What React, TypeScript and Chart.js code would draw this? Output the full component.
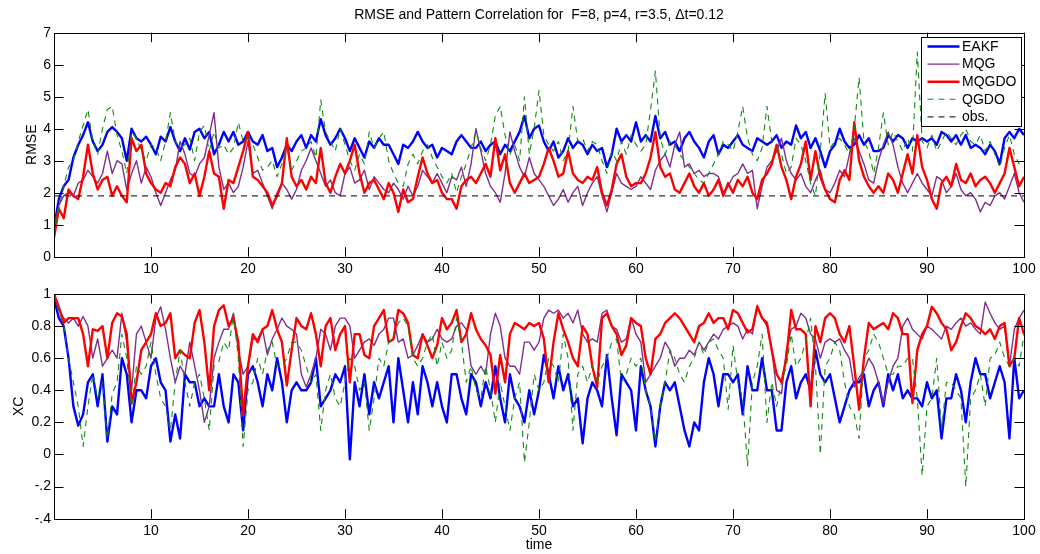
import React, { useEffect, useRef } from "react";
import { Chart, registerables } from "chart.js";

Chart.register(...registerables);

// ---------- categories / ticks ----------
const TIME_STEP = 0.5; // time spacing of the sampled series (t = 0, 0.5, ..., 100)
const X_TICKS = [10, 20, 30, 40, 50, 60, 70, 80, 90, 100];
const RMSE_TICKS = [0, 1, 2, 3, 4, 5, 6, 7];
const XC_TICKS = [-0.4, -0.2, 0, 0.2, 0.4, 0.6, 0.8, 1];
const XC_TICK_LABELS = ["-.4", "-.2", "0", "0.2", "0.4", "0.6", "0.8", "1"];
const TITLE = "RMSE and Pattern Correlation for  F=8, p=4, r=3.5, \u0394t=0.12";
const SERIES_NAMES = ["EAKF", "MQG", "MQGDO", "QGDO", "obs."];
const OBS_RMSE = 1.9;

// ---------- RMSE (top panel) ----------
const EAKF_RMSE = [
  0.9, 1.8, 2.2, 2.4, 3.1, 3.5, 3.8, 4.2, 3.6, 3.3, 3.5, 3.9, 4.05, 3.9, 3.7, 3.0, 4.0, 3.7, 3.6, 3.75,
  3.5, 3.2, 3.75, 3.6, 4.05, 3.6, 3.3, 3.7, 3.35, 3.9, 4.0, 3.7, 3.9, 3.2, 3.5, 3.9, 3.6, 3.9, 3.5, 3.6,
  3.9, 3.6, 3.5, 3.8, 3.3, 3.4, 2.8, 3.1, 3.5, 3.3, 3.6, 3.8, 3.4, 3.8, 3.6, 4.3, 3.8, 3.5, 3.7, 4.0,
  3.7, 3.3, 3.7, 3.4, 3.1, 3.6, 3.4, 3.7, 3.5, 3.5, 3.2, 2.9, 3.5, 3.4, 3.6, 3.9, 3.6, 3.4, 3.5, 3.1,
  3.4, 3.3, 3.2, 3.6, 3.8, 3.6, 3.4, 3.4, 3.6, 3.3, 3.5, 3.6, 3.2, 3.5, 3.3, 3.6, 3.9, 4.4, 3.7, 4.0,
  4.1, 3.6, 3.3, 3.6, 3.1, 3.3, 3.7, 3.4, 3.6, 3.5, 3.2, 3.5, 3.3, 3.4, 2.8, 3.2, 4.0, 3.6, 3.8, 3.6,
  4.2, 3.6, 3.8, 3.6, 4.4, 3.7, 3.9, 3.5, 3.6, 3.3, 3.7, 3.9, 3.6, 3.4, 3.1, 3.6, 3.8, 3.2, 3.5, 3.4,
  3.6, 3.8, 3.5, 3.4, 3.3, 3.7, 3.6, 3.5, 3.6, 3.8, 3.4, 3.6, 3.5, 4.1, 3.7, 3.9, 3.4, 3.7, 3.3, 2.8,
  3.3, 3.5, 4.0, 3.6, 3.4, 3.5, 3.8, 3.5, 3.7, 3.3, 3.3, 3.4, 3.8, 3.6, 3.8, 3.7, 3.4, 3.7, 3.6, 3.7,
  3.6, 3.7, 3.5, 3.9, 3.8, 3.6, 3.8, 3.5, 3.8, 3.4, 3.5, 3.4, 3.2, 3.5, 3.3, 2.9, 3.7, 3.9, 3.7, 4.0, 3.8,
];
const MQG_RMSE = [
  0.9, 1.6, 1.9, 2.0, 1.9, 2.3, 2.4, 2.7, 2.5, 2.3, 2.6, 3.3, 2.6, 3.0, 2.9, 2.1, 2.6, 3.0, 2.3, 2.8,
  2.5, 2.0, 1.6, 2.0, 2.4, 2.7, 3.6, 3.2, 2.6, 2.5, 2.9, 3.1, 3.8, 4.5, 2.8, 2.1, 2.3, 2.0, 2.2, 2.8,
  3.6, 2.6, 2.7, 2.3, 1.9, 1.5, 2.0, 2.3, 2.1, 1.8, 2.1, 2.7, 3.0, 3.4, 3.0, 2.6, 2.2, 2.4, 2.0, 1.9,
  2.6, 2.8, 2.3, 2.4, 2.7, 2.1, 2.5, 2.3, 2.1, 2.0, 2.3, 2.1, 1.8, 2.2, 1.9, 2.2, 2.7, 2.5, 2.3, 2.6,
  2.3, 2.0, 2.5, 2.4, 2.8, 2.2, 2.9, 4.0, 3.3, 2.6, 2.2, 2.0, 1.7, 2.6, 3.9, 3.3, 2.8, 2.5, 3.1, 2.6,
  2.4, 2.2, 1.9, 1.6, 1.8, 2.1, 1.7, 2.0, 2.2, 1.6, 2.0, 2.3, 2.5, 1.9, 1.4, 2.0, 2.6, 2.3, 2.2, 2.1,
  2.2, 2.5, 2.3, 2.1, 2.7, 3.0, 3.2, 2.8, 3.5, 3.9, 2.8, 2.9, 2.6, 2.7, 2.5, 2.6, 2.6, 2.5, 2.0, 2.2,
  2.5, 2.6, 2.9, 2.6, 2.7, 1.5, 2.2, 2.8, 3.0, 3.3, 3.7, 3.0, 2.6, 2.4, 2.6, 2.2, 2.0, 2.4, 2.7, 2.1,
  2.0, 2.3, 2.7, 2.5, 3.2, 3.7, 3.3, 2.9, 2.4, 2.3, 3.0, 3.5, 3.9, 3.5, 2.8, 2.3, 2.0, 2.3, 2.6, 2.3,
  2.1, 1.9, 2.5, 2.4, 2.0, 2.2, 2.6, 2.1, 1.9, 2.0, 1.8, 1.4, 1.7, 1.6, 1.9, 2.0, 1.8, 2.2, 2.6, 2.0, 1.7,
];
const MQGDO_RMSE = [
  0.6, 1.5, 1.2, 2.1, 1.9, 1.8, 2.5, 3.5, 2.6, 2.1, 2.4, 2.5, 1.9, 2.2, 1.9, 1.7, 3.7, 3.3, 3.5, 2.6,
  2.3, 2.1, 2.0, 2.3, 2.2, 2.8, 3.1, 2.9, 2.3, 2.6, 1.9, 2.5, 3.3, 2.6, 2.5, 1.5, 2.4, 2.3, 2.8, 3.3,
  3.9, 2.5, 2.4, 2.2, 2.0, 1.6, 1.9, 2.3, 3.7, 2.5, 2.2, 2.4, 2.1, 2.5, 2.3, 3.4, 2.3, 2.0, 2.5, 2.9,
  2.6, 3.0, 3.5, 2.6, 2.0, 2.3, 2.4, 2.1, 1.8, 2.3, 2.0, 1.4, 2.1, 1.7, 1.8, 2.5, 3.1, 2.6, 2.3, 2.4,
  2.0, 1.8, 1.8, 1.5, 2.2, 2.4, 2.5, 2.3, 2.6, 2.9, 2.5, 3.7, 2.7, 3.2, 2.3, 2.0, 2.3, 2.6, 2.3, 2.4,
  2.5, 2.9, 3.4, 3.0, 2.5, 2.6, 3.3, 2.6, 2.4, 2.3, 2.5, 2.4, 2.8, 2.0, 1.6, 2.1, 2.9, 3.2, 2.5, 2.2,
  2.3, 2.3, 2.6, 3.1, 3.9, 2.8, 2.5, 2.6, 2.1, 2.0, 2.3, 2.6, 2.2, 2.0, 2.3, 1.9, 2.1, 2.4, 1.9, 2.3,
  2.0, 2.4, 2.2, 2.5, 2.0, 1.8, 2.4, 2.6, 2.9, 3.5, 2.8, 2.4, 1.8, 2.5, 2.9, 3.6, 2.4, 3.3, 2.5, 2.1,
  1.8, 1.7, 2.4, 2.7, 2.4, 4.2, 3.0, 2.5, 2.2, 2.0, 2.2, 2.0, 2.6, 2.4, 2.0, 2.6, 3.2, 2.6, 3.8, 2.8,
  2.4, 1.8, 1.5, 2.3, 2.5, 2.2, 2.9, 2.4, 2.3, 2.6, 2.2, 2.4, 2.5, 2.3, 2.0, 2.3, 2.6, 3.4, 2.8, 2.2, 2.5,
];
const QGDO_RMSE = [
  0.7, 1.5, 2.2, 2.8, 3.0, 3.6, 4.1, 4.6, 3.6, 3.2, 4.0, 4.6, 4.7, 3.8, 3.3, 2.6, 3.9, 3.7, 3.3, 3.0,
  3.5, 3.4, 3.0, 3.6, 4.5, 3.6, 3.4, 3.5, 3.7, 3.0, 3.9, 4.1, 3.3, 3.9, 3.4, 3.5, 3.2, 3.4, 4.2, 3.6,
  3.7, 3.5, 3.1, 2.7, 2.8, 3.0, 2.5, 2.9, 3.4, 2.7, 3.0, 3.3, 3.4, 3.6, 3.1, 4.9, 3.9, 3.6, 3.3, 4.0,
  3.5, 3.0, 2.7, 3.2, 2.9, 3.9, 3.4, 3.7, 3.9, 3.0, 2.6, 2.3, 2.2, 2.9, 3.2, 2.9, 3.3, 3.5, 3.1, 2.8,
  2.5, 2.3, 2.6, 2.0, 2.5, 2.9, 3.4, 3.9, 3.4, 3.0, 3.5, 4.4, 4.7, 3.8, 3.2, 3.5, 3.0, 5.0, 3.2, 4.0,
  5.2, 3.8, 3.5, 3.3, 3.6, 3.0, 3.3, 4.7, 3.6, 3.7, 3.3, 3.6, 3.5, 3.0, 2.6, 3.3, 3.0, 3.6, 3.2, 3.8,
  3.5, 3.3, 3.5, 4.6, 5.8, 3.7, 3.2, 3.6, 3.5, 3.2, 3.0, 2.8, 2.6, 2.4, 2.3, 2.6, 2.9, 3.2, 3.6, 3.5,
  3.3, 3.9, 4.7, 3.7, 3.2, 3.0, 3.4, 4.7, 3.6, 3.4, 3.2, 2.6, 2.8, 3.7, 3.5, 3.0, 2.3, 1.9, 3.3, 5.1,
  3.4, 3.6, 3.7, 3.5, 3.2, 4.0, 5.6, 3.6, 3.3, 2.6, 3.4, 4.5, 3.5, 3.9, 3.6, 3.3, 3.7, 3.3, 6.4, 3.6,
  3.4, 3.8, 3.3, 3.6, 3.9, 3.7, 3.5, 3.8, 4.0, 3.6, 3.5, 3.8, 3.3, 3.6, 3.2, 2.8, 3.4, 3.8, 3.2, 2.9, 3.0,
];

// ---------- pattern correlation XC (bottom panel) ----------
const EAKF_XC = [
  0.97, 0.85, 0.8, 0.6, 0.3, 0.18, 0.25, 0.45, 0.5, 0.3, 0.5, 0.08, 0.3, 0.25, 0.6, 0.5, 0.2, 0.4, 0.4, 0.35,
  0.55, 0.6, 0.45, 0.4, 0.08, 0.25, 0.1, 0.5, 0.45, 0.45, 0.3, 0.35, 0.3, 0.3, 0.5, 0.3, 0.2, 0.5, 0.45, 0.15,
  0.5, 0.55, 0.45, 0.3, 0.5, 0.4, 0.6, 0.45, 0.2, 0.4, 0.45, 0.4, 0.4, 0.45, 0.6, 0.3, 0.35, 0.4, 0.5, 0.45,
  0.55, -0.03, 0.45, 0.3, 0.5, 0.25, 0.45, 0.35, 0.45, 0.55, 0.2, 0.6, 0.4, 0.2, 0.45, 0.25, 0.55, 0.45, 0.3, 0.45,
  0.3, 0.2, 0.5, 0.5, 0.35, 0.25, 0.5, 0.45, 0.3, 0.45, 0.35, 0.55, 0.35, 0.2, 0.5, 0.35, 0.3, 0.2, 0.4, 0.25,
  0.4, 0.62, 0.5, 0.35, 0.55, 0.4, 0.5, 0.3, 0.35, 0.07, 0.35, 0.45, 0.4, 0.3, 0.62, 0.35, 0.12, 0.5, 0.45, 0.4,
  0.15, 0.55, 0.4, 0.3, 0.05, 0.3, 0.45, 0.4, 0.45, 0.3, 0.15, 0.05, 0.2, 0.15, 0.45, 0.6, 0.5, 0.3, 0.5, 0.5,
  0.45, 0.5, 0.25, 0.55, 0.4, 0.4, 0.6, 0.4, 0.4, 0.15, 0.15, 0.45, 0.55, 0.35, 0.45, 0.5, 0.4, 0.65, 0.5, 0.45,
  0.5, 0.35, 0.2, 0.3, 0.4, 0.45, 0.45, 0.5, 0.3, 0.4, 0.45, 0.3, 0.5, 0.4, 0.5, 0.35, 0.4, 0.35, 0.35, 0.3,
  0.45, 0.35, 0.4, 0.1, 0.35, 0.35, 0.5, 0.4, 0.2, 0.45, 0.6, 0.5, 0.5, 0.35, 0.45, 0.55, 0.45, 0.1, 0.6, 0.35, 0.4,
];
const MQG_XC = [
  1.0, 0.9, 0.85, 0.82, 0.85, 0.8, 0.86, 0.8, 0.6, 0.72, 0.55, 0.6, 0.65, 0.6, 0.88, 0.7, 0.4, 0.75, 0.8, 0.7,
  0.6, 0.85, 0.92, 0.78, 0.6, 0.45, 0.55, 0.5, 0.7, 0.55, 0.4, 0.2, 0.3, 0.6, 0.7, 0.78, 0.78, 0.88, 0.65, 0.5,
  0.55, 0.72, 0.72, 0.78, 0.62, 0.72, 0.78, 0.85, 0.8, 0.78, 0.75, 0.5, 0.42, 0.5, 0.6, 0.78, 0.75, 0.65, 0.8, 0.85,
  0.85, 0.8, 0.6, 0.65, 0.7, 0.72, 0.68, 0.75, 0.78, 0.85, 0.85, 0.7, 0.72, 0.6, 0.62, 0.68, 0.75, 0.7, 0.72, 0.78,
  0.72, 0.7, 0.72, 0.8, 0.82, 0.78, 0.55, 0.5, 0.55, 0.5, 0.75, 0.88, 0.8, 0.6, 0.55, 0.55, 0.5, 0.7, 0.7, 0.65,
  0.7, 0.85, 0.9, 0.88, 0.9, 0.85, 0.88, 0.82, 0.9, 0.75, 0.7, 0.72, 0.7, 0.88, 0.9, 0.8, 0.78, 0.7, 0.72, 0.85,
  0.75, 0.7, 0.45, 0.5, 0.55, 0.6, 0.7, 0.65, 0.55, 0.6, 0.6, 0.65, 0.62, 0.7, 0.65, 0.7, 0.75, 0.72, 0.78, 0.8,
  0.82, 0.8, 0.72, 0.78, 0.75, 0.93, 0.85, 0.8, 0.65, 0.4, 0.38, 0.65, 0.78, 0.8, 0.88, 0.85, 0.75, 0.72, 0.6, 0.7,
  0.72, 0.7, 0.72, 0.65, 0.6, 0.42, 0.48, 0.52, 0.6, 0.55, 0.45, 0.32, 0.45, 0.55, 0.6, 0.8, 0.85, 0.78, 0.75, 0.72,
  0.8, 0.78, 0.75, 0.72, 0.8, 0.78, 0.82, 0.85, 0.8, 0.82, 0.78, 0.75, 0.95, 0.88, 0.82, 0.78, 0.8, 0.55, 0.78, 0.85, 0.9,
];
const MQGDO_XC = [
  1.0, 0.92, 0.82, 0.85, 0.85, 0.85, 0.75, 0.55, 0.78, 0.77, 0.8, 0.6, 0.82, 0.88, 0.86, 0.75, 0.32, 0.45, 0.65, 0.7,
  0.75, 0.88, 0.8, 0.82, 0.88, 0.6, 0.65, 0.62, 0.6, 0.82, 0.9, 0.7, 0.4, 0.8, 0.9, 0.93, 0.8, 0.85, 0.7, 0.25,
  0.55, 0.75, 0.7, 0.78, 0.8, 0.9, 0.78, 0.7, 0.43, 0.65, 0.85, 0.8, 0.78, 0.88, 0.75, 0.55, 0.8, 0.85, 0.65, 0.75,
  0.8, 0.45, 0.75, 0.75, 0.62, 0.6, 0.8, 0.85, 0.9, 0.7, 0.72, 0.9, 0.88, 0.82, 0.62, 0.6, 0.75, 0.68, 0.6, 0.68,
  0.85, 0.78, 0.82, 0.9, 0.7, 0.75, 0.88, 0.78, 0.72, 0.68, 0.62, 0.38, 0.62, 0.45, 0.75, 0.82, 0.8, 0.78, 0.82, 0.8,
  0.82, 0.72, 0.45, 0.7, 0.88, 0.78, 0.7, 0.6, 0.55, 0.8, 0.75, 0.55, 0.42, 0.85, 0.88, 0.8, 0.75, 0.62, 0.68, 0.85,
  0.82, 0.8, 0.6, 0.5, 0.72, 0.75, 0.82, 0.85, 0.88, 0.85, 0.8, 0.75, 0.7, 0.8, 0.82, 0.88, 0.82, 0.85, 0.85, 0.78,
  0.9, 0.88, 0.82, 0.76, 0.78, 0.92, 0.85, 0.82, 0.65, 0.5, 0.45, 0.6, 0.9, 0.78, 0.78, 0.75, 0.3, 0.8, 0.7, 0.85,
  0.88, 0.85, 0.75, 0.7, 0.8, 0.55, 0.28, 0.6, 0.82, 0.78, 0.8, 0.82, 0.78, 0.88, 0.85, 0.75, 0.75, 0.32, 0.65, 0.75,
  0.8, 0.92, 0.88, 0.82, 0.78, 0.65, 0.7, 0.8, 0.88, 0.85, 0.8, 0.78, 0.75, 0.78, 0.72, 0.8, 0.82, 0.55, 0.6, 0.85, 0.75,
];
const QGDO_XC = [
  1.0, 0.9, 0.8, 0.6, 0.45, 0.3, 0.05, 0.3, 0.5, 0.35, 0.45, 0.1, 0.38, 0.45, 0.75, 0.6, 0.3, 0.55, 0.5, 0.55,
  0.7, 0.5, 0.35, 0.3, 0.15, 0.45, 0.65, 0.45, 0.3, 0.45, 0.5, 0.35, 0.15, 0.55, 0.58, 0.7, 0.65, 0.88, 0.6, 0.05,
  0.4, 0.45, 0.6, 0.5, 0.65, 0.7, 0.55, 0.55, 0.6, 0.7, 0.7, 0.65, 0.55, 0.45, 0.5, 0.15, 0.4, 0.5, 0.35, 0.3,
  0.45, 0.6, 0.55, 0.4, 0.45, 0.15, 0.35, 0.6, 0.55, 0.7, 0.72, 0.82, 0.85, 0.8, 0.6, 0.55, 0.6, 0.7, 0.75, 0.55,
  0.7, 0.6, 0.65, 0.85, 0.7, 0.45, 0.55, 0.4, 0.35, 0.55, 0.4, 0.2, 0.45, 0.3, 0.15, 0.35, 0.45, -0.05, 0.2, 0.5,
  0.4, 0.45, 0.6, 0.55, 0.45, 0.75, 0.6, 0.15, 0.5, 0.55, 0.45, 0.55, 0.45, 0.55, 0.6, 0.7, 0.72, 0.45, 0.5, 0.6,
  0.55, 0.6, 0.4, 0.3, 0.08, 0.3, 0.45, 0.65, 0.6, 0.5, 0.45, 0.55, 0.6, 0.7, 0.62, 0.7, 0.72, 0.65, 0.6, 0.28,
  0.68, 0.45, 0.35, -0.07, 0.45, 0.55, 0.75, 0.2, 0.45, 0.3, 0.45, 0.55, 0.75, 0.55, 0.6, 0.7, 0.85, 0.55, 0.0, 0.55,
  0.6, 0.7, 0.65, 0.45, 0.3, 0.25, 0.1, 0.6, 0.65, 0.75, 0.7, 0.6, 0.5, 0.5, 0.55, 0.55, 0.6, 0.6, 0.35, -0.13,
  0.3, 0.35, 0.6, 0.15, 0.45, 0.45, 0.4, 0.35, -0.2, 0.35, 0.4, 0.5, 0.3, 0.6, 0.62, 0.7, 0.6, 0.55, 0.6, 0.55, 0.75,
];

// ---------- styling ----------
const FONT = "'Liberation Sans', Arial, Helvetica, sans-serif";
const STYLE: Record<string, { color: string; width: number; dash: number[] }> = {
  EAKF: { color: "#0000ff", width: 2.4, dash: [] },
  MQG: { color: "#7e2f8e", width: 1.4, dash: [] },
  MQGDO: { color: "#ff0000", width: 2.4, dash: [] },
  QGDO: { color: "#108a10", width: 1.1, dash: [6, 5] },
  "obs.": { color: "#000000", width: 1, dash: [6, 5] },
};

const toPoints = (vals: number[]) => vals.map((v, i) => ({ x: i * TIME_STEP, y: v }));

const makeDataset = (name: string, data: { x: number; y: number }[], order: number) => ({
  label: name,
  data,
  borderColor: STYLE[name].color,
  borderWidth: STYLE[name].width,
  borderDash: STYLE[name].dash,
  pointRadius: 0,
  tension: 0,
  fill: false,
  borderJoinStyle: "round" as const,
  order,
});

// inward MATLAB-style ticks on all four sides plus the box frame
const matlabAxes = {
  id: "matlabAxes",
  afterDatasetsDraw(chart: any) {
    const { ctx, chartArea: a, scales } = chart;
    const L = 9.5;
    ctx.save();
    ctx.strokeStyle = "#000";
    ctx.lineWidth = 1;
    ctx.setLineDash([]);
    ctx.beginPath();
    for (const t of scales.x.ticks) {
      const px = Math.round(scales.x.getPixelForValue(t.value)) + 0.5;
      ctx.moveTo(px, a.bottom);
      ctx.lineTo(px, a.bottom - L);
      ctx.moveTo(px, a.top);
      ctx.lineTo(px, a.top + L);
    }
    for (const t of scales.y.ticks) {
      const py = Math.round(scales.y.getPixelForValue(t.value)) + 0.5;
      ctx.moveTo(a.left, py);
      ctx.lineTo(a.left + L, py);
      ctx.moveTo(a.right, py);
      ctx.lineTo(a.right - L, py);
    }
    ctx.stroke();
    ctx.strokeRect(Math.round(a.left) + 0.5, Math.round(a.top) + 0.5, Math.round(a.right - a.left), Math.round(a.bottom - a.top));
    ctx.restore();
  },
};

// boxed legend inside the top-right corner of the axes
const boxedLegend = {
  id: "boxedLegend",
  afterDraw(chart: any) {
    const { ctx, chartArea: a } = chart;
    const w = 100;
    const h = 89;
    const x = Math.round(a.right - 3.5 - w);
    const y = Math.round(a.top + 4.6);
    ctx.save();
    ctx.fillStyle = "#ffffff";
    ctx.fillRect(x, y, w, h);
    ctx.strokeStyle = "#000";
    ctx.lineWidth = 1;
    ctx.setLineDash([]);
    ctx.strokeRect(x + 0.5, y + 0.5, w, h);
    ctx.font = `14px ${FONT}`;
    ctx.textBaseline = "middle";
    ctx.textAlign = "left";
    chart.data.datasets.forEach((ds: any, i: number) => {
      const ly = y + 9.5 + i * 17.6;
      ctx.beginPath();
      ctx.strokeStyle = ds.borderColor;
      ctx.lineWidth = ds.borderWidth;
      ctx.setLineDash(ds.borderDash || []);
      ctx.moveTo(x + 6.5, ly);
      ctx.lineTo(x + 38.5, ly);
      ctx.stroke();
      ctx.setLineDash([]);
      ctx.fillStyle = "#000";
      ctx.fillText(ds.label, x + 41, ly + 0.5);
    });
    ctx.restore();
  },
};

const tickFont = { family: FONT, size: 14 };

function baseXScale(height: number, withTitle: boolean) {
  return {
    type: "linear" as const,
    min: 0,
    max: 100,
    afterBuildTicks: (s: any) => {
      s.ticks = X_TICKS.map((v) => ({ value: v }));
    },
    afterFit: (s: any) => {
      s.height = height;
    },
    grid: { display: false, drawTicks: false },
    border: { display: false },
    ticks: { color: "#000", font: tickFont, padding: 4, maxRotation: 0, autoSkip: false },
    title: withTitle
      ? { display: true, text: "time", color: "#000", font: tickFont, padding: { top: 0, bottom: 0.6 } }
      : { display: false },
  };
}

function baseYScale(min: number, max: number, ticks: number[], labels: string[] | null, name: string, titlePad: number) {
  return {
    type: "linear" as const,
    min,
    max,
    afterBuildTicks: (s: any) => {
      s.ticks = ticks.map((v) => ({ value: v }));
    },
    afterFit: (s: any) => {
      s.width = 54;
    },
    grid: { display: false, drawTicks: false },
    border: { display: false },
    ticks: {
      color: "#000",
      font: tickFont,
      padding: 3,
      autoSkip: false,
      callback: (v: any, i: number) => (labels ? labels[i] : String(v)),
    },
    title: { display: true, text: name, color: "#000", font: tickFont, padding: { top: titlePad, bottom: 0 } },
  };
}

export default function App() {
  const topRef = useRef<HTMLCanvasElement | null>(null);
  const botRef = useRef<HTMLCanvasElement | null>(null);

  useEffect(() => {
    const rmseSeries = [EAKF_RMSE, MQG_RMSE, MQGDO_RMSE, QGDO_RMSE];
    const xcSeries = [EAKF_XC, MQG_XC, MQGDO_XC, QGDO_XC];
    const lastT = (EAKF_RMSE.length - 1) * TIME_STEP;

    const topDatasets = rmseSeries.map((vals, i) => makeDataset(SERIES_NAMES[i], toPoints(vals), 10 - i));
    topDatasets.push(
      makeDataset("obs.", [
        { x: 0, y: OBS_RMSE },
        { x: lastT, y: OBS_RMSE },
      ], 1)
    );
    const botDatasets = xcSeries.map((vals, i) => makeDataset(SERIES_NAMES[i], toPoints(vals), 10 - i));

    const top = new Chart(topRef.current as HTMLCanvasElement, {
      type: "line",
      data: { datasets: topDatasets as any },
      options: {
        animation: false,
        responsive: false,
        events: [],
        layout: { padding: { left: 0, right: 16, top: 0, bottom: 0 } },
        plugins: {
          legend: { display: false },
          tooltip: { enabled: false },
          title: {
            display: true,
            text: TITLE,
            fullSize: false,
            color: "#000",
            font: { family: FONT, size: 14, weight: "normal" },
            padding: { top: 6.5, bottom: 9.4 },
          },
        },
        scales: {
          x: baseXScale(23.3, false) as any,
          y: baseYScale(0, 7, RMSE_TICKS, null, "RMSE", 23.6) as any,
        },
      },
      plugins: [matlabAxes, boxedLegend],
    });

    const bot = new Chart(botRef.current as HTMLCanvasElement, {
      type: "line",
      data: { datasets: botDatasets as any },
      options: {
        animation: false,
        responsive: false,
        events: [],
        layout: { padding: { left: 0, right: 16, top: 14, bottom: 0 } },
        plugins: {
          legend: { display: false },
          tooltip: { enabled: false },
        },
        scales: {
          x: baseXScale(35.3, true) as any,
          y: baseYScale(-0.4, 1, XC_TICKS, XC_TICK_LABELS, "XC", 10.6) as any,
        },
      },
      plugins: [matlabAxes],
    });

    return () => {
      top.destroy();
      bot.destroy();
    };
  }, []);

  return (
    <div style={{ position: "fixed", left: 0, top: 0, width: 1040, height: 554, background: "#fff" }}>
      <canvas ref={topRef} width={1040} height={280} style={{ position: "absolute", left: 0, top: 0, width: 1040, height: 280 }} />
      <canvas ref={botRef} width={1040} height={274} style={{ position: "absolute", left: 0, top: 280, width: 1040, height: 274 }} />
    </div>
  );
}
